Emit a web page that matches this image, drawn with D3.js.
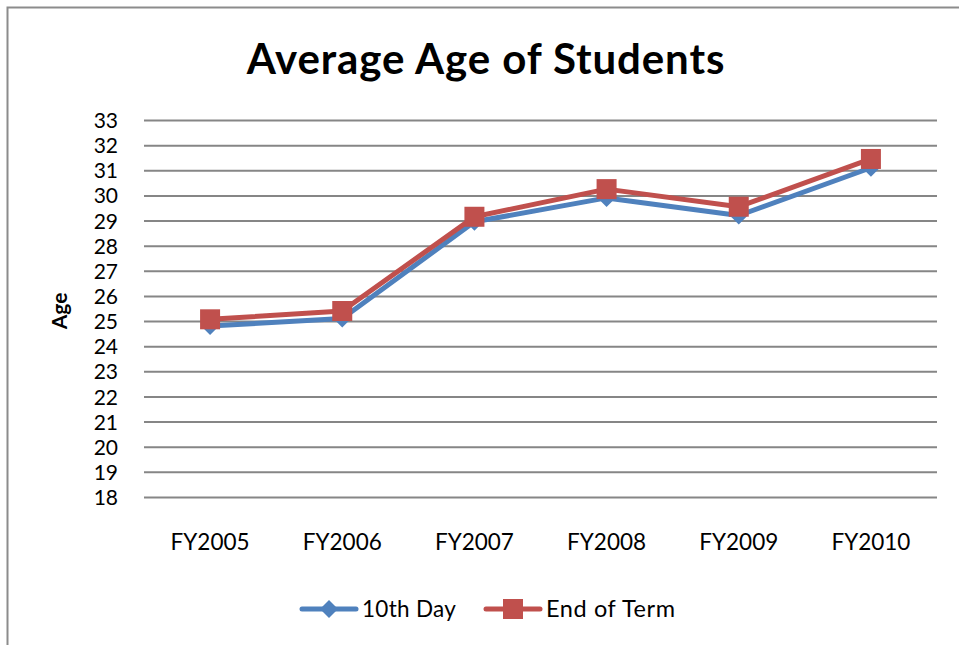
<!DOCTYPE html>
<html>
<head>
<meta charset="utf-8">
<script src="https://cdn.jsdelivr.net/npm/d3@7"></script>
<style>
  html, body { margin: 0; padding: 0; background: #fff; }
  svg { display: block; }
  text { font-family: Lato, "Open Sans", sans-serif; fill: #000; }
</style>
</head>
<body>
<svg id="chart" width="959" height="645"></svg>
<script>
// Fiscal years and average student ages
const categories = ["FY2005", "FY2006", "FY2007", "FY2008", "FY2009", "FY2010"];
const tenthDay   = [24.8, 25.1, 28.95, 29.9, 29.2, 31.1];
const endOfTerm  = [25.07, 25.4, 29.15, 30.25, 29.55, 31.45];
const yTicks     = [18, 19, 20, 21, 22, 23, 24, 25, 26, 27, 28, 29, 30, 31, 32, 33];
const seriesNames = ["10th Day", "End of Term"];

const svg = d3.select("#chart");

// outer chart frame
svg.append("rect")
  .attr("x", 7.5).attr("y", 7.5)
  .attr("width", 970).attr("height", 660)
  .attr("fill", "#fff")
  .attr("stroke", "#8c8c8c").attr("stroke-width", 2);

const plot = { left: 144, right: 937, top: 120, bottom: 497 };

const x = d3.scaleBand().domain(categories).range([plot.left, plot.right]);
const y = d3.scaleLinear().domain([18, 33]).range([plot.bottom, plot.top]);

// gridlines with tick labels
const yAxis = d3.axisLeft(y).tickValues(yTicks).tickSize(-(plot.right - plot.left)).tickPadding(26)
  .tickFormat(d3.format("d"));
const gy = svg.append("g").attr("transform", `translate(${plot.left},0)`).call(yAxis);
gy.select(".domain").remove();
gy.selectAll(".tick line").attr("stroke", "#868686").attr("stroke-width", 2);
gy.selectAll(".tick text").attr("font-size", 21).attr("font-family", "Lato, sans-serif").attr("fill", "#000")
  .attr("dy", "0.36em");

// category labels
const xAxis = d3.axisBottom(x).tickSize(0).tickPadding(37);
const gx = svg.append("g").attr("transform", `translate(0,${plot.bottom})`).call(xAxis);
gx.select(".domain").remove();
gx.selectAll(".tick text").attr("font-size", 22.5).attr("font-family", "Lato, sans-serif").attr("fill", "#000");

// title
svg.append("text")
  .attr("x", 486).attr("y", 74)
  .attr("text-anchor", "middle")
  .attr("font-size", 42).attr("font-weight", "bold")
  .attr("letter-spacing", 0.9)
  .text("Average Age of Students");

// y-axis title
svg.append("text")
  .attr("transform", "translate(67,311) rotate(-90)")
  .attr("text-anchor", "middle")
  .attr("font-size", 21).attr("font-weight", "bold")
  .text("Age");

const colors = ["#4F81BD", "#C0504D"];
const line = d3.line().x((d, i) => x(categories[i]) + x.bandwidth() / 2).y(d => y(d));

function diamond(g, cx, cy, color) {
  const r = 9;
  g.append("path")
    .attr("d", `M${cx},${cy - r}L${cx + r},${cy}L${cx},${cy + r}L${cx - r},${cy}Z`)
    .attr("fill", color);
}
function square(g, cx, cy, color) {
  const s = 20;
  g.append("rect")
    .attr("x", cx - s / 2).attr("y", cy - s / 2)
    .attr("width", s).attr("height", s)
    .attr("fill", color);
}

const series = [tenthDay, endOfTerm];
const markers = [diamond, square];
series.forEach((vals, k) => {
  const g = svg.append("g");
  g.append("path")
    .attr("d", line(vals))
    .attr("fill", "none")
    .attr("stroke", colors[k])
    .attr("stroke-width", 5)
    .attr("stroke-linejoin", "round");
  vals.forEach((v, i) => markers[k](g, x(categories[i]) + x.bandwidth() / 2, y(v), colors[k]));
});

// legend
const legendY = 609;
const legendItems = [
  { x0: 302, name: seriesNames[0], size: 22.5 },
  { x0: 486, name: seriesNames[1], size: 23.5 }
];
legendItems.forEach((it, k) => {
  const g = svg.append("g");
  g.append("line")
    .attr("x1", it.x0).attr("x2", it.x0 + 54)
    .attr("y1", legendY).attr("y2", legendY)
    .attr("stroke", colors[k]).attr("stroke-width", 5).attr("stroke-linecap", "round");
  markers[k](g, it.x0 + 27, legendY, colors[k]);
  g.append("text")
    .attr("x", it.x0 + 60).attr("y", 617)
    .attr("font-size", it.size)
    .attr("letter-spacing", k === 1 ? 0.6 : 0.3)
    .text(it.name);
});
</script>
</body>
</html>
